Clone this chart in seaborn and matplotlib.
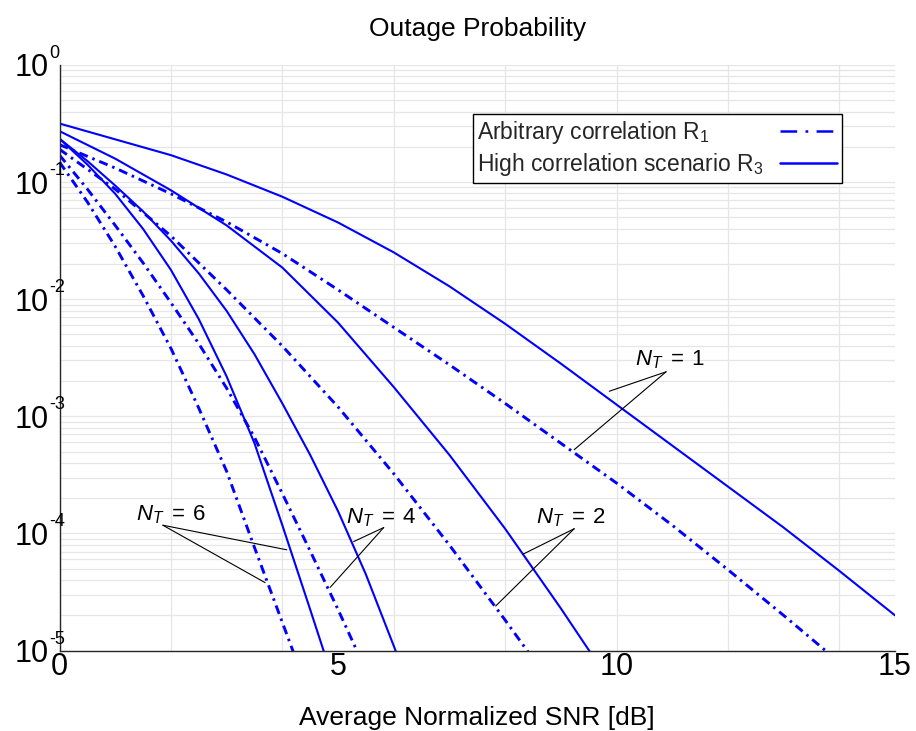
import numpy as np
import pandas as pd
import matplotlib
matplotlib.use("Agg")
import matplotlib.pyplot as plt
import seaborn as sns
from matplotlib.ticker import FixedLocator, LogLocator, NullFormatter, FuncFormatter
from matplotlib.transforms import offset_copy

# SNR axis samples [dB] and outage probabilities (log10 values)
snr_n1 = [0, 1, 2, 3, 4, 5, 6, 7, 8, 9, 10, 11, 12, 13, 14, 15]
r3_n1 = [-0.50, -0.635, -0.77, -0.935, -1.125, -1.345, -1.60, -1.89, -2.21, -2.55,
         -2.90, -3.25, -3.60, -3.95, -4.32, -4.70]
r1_n1 = [-0.68, -0.88, -1.10, -1.34, -1.61, -1.92, -2.24, -2.56, -2.89, -3.23,
         -3.57, -3.93, -4.31, -4.70, -5.10, -5.50]

snr_n2 = [0, 1, 2, 3, 4, 5, 6, 7, 8, 9, 10]
r3_n2 = [-0.565, -0.80, -1.07, -1.37, -1.73, -2.20, -2.75, -3.33, -3.96, -4.64, -5.35]
r1_n2 = [-0.72, -1.06, -1.46, -1.92, -2.40, -2.92, -3.49, -4.10, -4.74, -5.40, -6.06]

snr_n4 = [0, 0.5, 1, 1.5, 2, 2.5, 3, 3.5, 4, 4.5, 5, 5.5, 6, 6.5]
r3_n4 = [-0.63, -0.82, -1.03, -1.25, -1.50, -1.78, -2.10, -2.47, -2.89, -3.33,
         -3.81, -4.35, -4.96, -5.60]
r1_n4 = [-0.77, -1.06, -1.37, -1.69, -2.03, -2.38, -2.76, -3.18, -3.66, -4.15,
         -4.65, -5.17, -5.70, -6.25]

snr_n6 = [0, 0.5, 1, 1.5, 2, 2.5, 3, 3.5, 4, 4.5, 5]
r3_n6 = [-0.63, -0.85, -1.10, -1.40, -1.75, -2.17, -2.66, -3.23, -3.93, -4.65, -5.38]
r1_n6 = [-0.83, -1.17, -1.55, -1.97, -2.42, -2.93, -3.47, -4.12, -4.76, -5.40, -6.05]

# decade ticks of the y axis
y_exponents = [-5, -4, -3, -2, -1, 0]

# annotation labels: text anchor, apex, and the two ends pointing to the curves
labels = [r"$N_T\;=\;1$", r"$N_T\;=\;2$", r"$N_T\;=\;4$", r"$N_T\;=\;6$"]
label_pos = [(10.34, -2.564), (8.55, -3.915), (5.15, -3.915), (1.37, -3.89)]
label_apex = [(10.89, -2.62), (9.24, -3.96), (5.82, -3.95), (1.855, -3.93)]
label_ends = [[(9.87, -2.786), (9.24, -3.285)],
              [(8.31, -4.18), (7.83, -4.62)],
              [(5.28, -4.07), (4.86, -4.46)],
              [(4.08, -4.14), (3.69, -4.42)]]

legend_r1 = "Arbitrary correlation R$_1$"
legend_r3 = "High correlation scenario R$_3$"

sns.set_theme(style="white")
plt.rcParams["font.family"] = ["Liberation Sans", "DejaVu Sans"]
plt.rcParams["mathtext.fontset"] = "custom"
plt.rcParams["mathtext.rm"] = "Liberation Sans"
plt.rcParams["mathtext.it"] = "Liberation Sans:italic"
plt.rcParams["mathtext.bf"] = "Liberation Sans:bold"
plt.rcParams["lines.scale_dashes"] = False

blue = (0, 0, 1)
dashdot = (0, (6.5, 3.6, 1.8, 3.6))

fig = plt.figure(figsize=(9.16, 7.31), dpi=100)
ax = fig.add_axes([0.065, 0.1101, 0.9121, 0.8010])

curves = [
    (snr_n1, r1_n1, r3_n1),
    (snr_n2, r1_n2, r3_n2),
    (snr_n4, r1_n4, r3_n4),
    (snr_n6, r1_n6, r3_n6),
]
for i, (snr, r1, r3) in enumerate(curves):
    df = pd.DataFrame({"snr": snr, "r1": np.power(10.0, r1), "r3": np.power(10.0, r3)})
    sns.lineplot(data=df, x="snr", y="r1", ax=ax, color=blue, lw=2.1,
                 linestyle=dashdot, label=legend_r1 if i == 0 else None)
    sns.lineplot(data=df, x="snr", y="r3", ax=ax, color=blue, lw=1.5,
                 label=legend_r3 if i == 0 else None)

ax.set_yscale("log")
ax.set_xlim(0, 15)
ax.set_ylim(1e-5, 1)

ax.set_xticks([0, 5, 10, 15])
ax.xaxis.set_minor_locator(FixedLocator(list(range(0, 16, 2))))
ax.xaxis.remove_overlapping_locs = False
ax.yaxis.set_major_locator(FixedLocator([10.0 ** e for e in y_exponents]))
ax.yaxis.set_major_formatter(FuncFormatter(lambda v, p: "10"))
ax.yaxis.set_minor_locator(LogLocator(base=10, subs=np.arange(2, 10), numticks=20))
ax.yaxis.set_minor_formatter(NullFormatter())

ax.grid(False)
ax.grid(True, which="minor", axis="x", color="#e6e6e6", lw=0.9)
ax.grid(True, which="both", axis="y", color="#e6e6e6", lw=0.9)
ax.set_axisbelow(True)

ax.tick_params(which="major", direction="in", length=5, width=1, color="#262626",
               labelsize=22, labelcolor="black")
ax.tick_params(axis="x", which="major", pad=1)
ax.tick_params(axis="y", which="major", pad=8)
ax.tick_params(which="minor", length=0)
for side in ["top", "right"]:
    ax.spines[side].set_visible(False)
for side in ["left", "bottom"]:
    ax.spines[side].set_color("#262626")
    ax.spines[side].set_linewidth(1)

# exponents of the y tick labels, MATLAB style (small, raised)
sup_trans = offset_copy(ax.get_yaxis_transform(), fig=fig, x=-10.5, y=3, units="dots")
for e in y_exponents:
    ax.text(0, 10.0 ** e, str(e), transform=sup_trans, ha="left", va="bottom",
            fontsize=13, color="black")

ax.set_title("Outage Probability", fontsize=19, pad=21, color="black")
ax.set_xlabel("Average Normalized SNR [dB]", fontsize=19, labelpad=17, color="black")
ax.set_ylabel("")

for text, pos, apex, ends in zip(labels, label_pos, label_apex, label_ends):
    ax.text(pos[0], 10 ** pos[1], text, fontsize=16, ha="left", va="baseline", color="black")
    for end in ends:
        ax.annotate("", xy=(end[0], 10 ** end[1]), xytext=(apex[0], 10 ** apex[1]),
                    arrowprops=dict(arrowstyle="-", color="black", lw=0.8,
                                    shrinkA=0, shrinkB=0))

leg = ax.legend(loc="upper right", bbox_to_anchor=(0.936, 0.916), borderaxespad=0,
                fontsize=16.5, markerfirst=False, frameon=True, fancybox=False,
                framealpha=1, edgecolor="black", borderpad=0.2, handlelength=2.5,
                handletextpad=0.7, labelspacing=0.25)
leg.get_frame().set_linewidth(1)
leg_lines = leg.get_lines()
leg_lines[0].set_linestyle((0, (12, 6, 2, 6)))
for ln in leg_lines:
    ln.set_linewidth(1.8)

# MATLAB-style legend: labels left-aligned, line samples right-aligned
try:
    fig.canvas.draw()
    rend = fig.canvas.get_renderer()
    widths = [t.get_window_extent(rend).width for t in leg.get_texts()]
    rows = leg._legend_handle_box.get_children()[0].get_children()
    for row, w in zip(rows, widths):
        row.sep += (max(widths) - w) * 72.0 / fig.dpi
except Exception:
    pass

fig.savefig("out.png", dpi=100)
